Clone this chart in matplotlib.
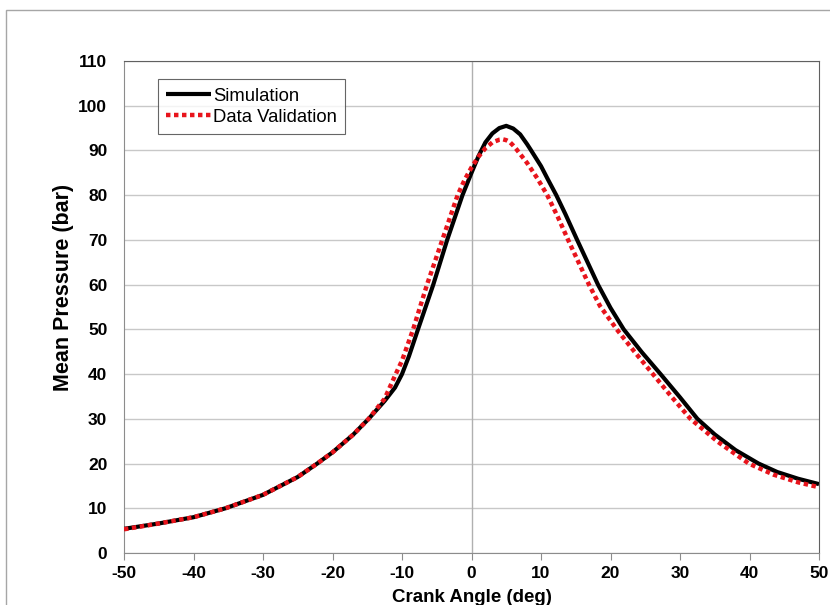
import matplotlib.pyplot as plt
from matplotlib.patches import Rectangle

plt.rcParams["font.family"] = ["Liberation Sans", "DejaVu Sans"]
plt.rcParams["axes.unicode_minus"] = False

# 曲线数据
sim_angle = [-50, -45, -40, -35.4, -30, -25, -22.2, -20, -17, -14.8, -12.5, -11, -10,
             -9, -7.7, -5.5, -3.5, -1.3, 0, 1, 2, 3, 4, 5, 6, 7, 8, 8.5, 10, 11,
             12.2, 13.5, 15.2, 16.7, 18.2, 20, 21.9, 24.5, 27.2, 30, 32.5, 35, 38,
             41.3, 44, 47, 50]
sim_pressure = [5.4, 6.6, 8.0, 10, 13.0, 17.0, 20, 22.5, 26.5, 30, 34, 37, 40,
                44, 50, 60, 70, 80, 85, 88.7, 91.8, 93.8, 95, 95.5, 94.9, 93.6, 91.4, 90.2, 86.5, 83.5,
                80, 75.8, 70, 65, 60, 54.8, 50, 44.9, 40, 34.8, 30, 26.5, 23,
                20, 18.1, 16.6, 15.4]

val_angle = [-50, -45, -40, -35.4, -30, -25, -22.2, -20, -17, -14.8, -12.5, -10.9, -10,
             -8.4, -6.4, -4.2, -2, -1, 0, 1, 2, 3, 4, 4.5, 5, 5.5, 6, 6.5, 8, 9.5,
             10.9, 12.4, 13.9, 16.9, 18.5, 20.9, 23.5, 26.1, 28.8, 31.5, 35.5, 39.9,
             43.5, 47, 50]
val_pressure = [5.3, 6.6, 8.0, 10, 13, 17, 20, 22.5, 26.5, 30, 34.5, 40, 43,
                50, 60, 70, 80, 83.4, 86.2, 88.6, 90.5, 91.8, 92.4, 92.5, 92.3, 91.9, 91.1, 90.2, 87.2, 83.7,
                80, 75.2, 70, 60, 55.2, 50, 44.9, 40, 34.9, 30, 24.8, 20,
                17.5, 15.8, 14.7]

x_ticks = list(range(-50, 51, 10))
y_ticks = list(range(0, 111, 10))


def main():
    fig = plt.figure(figsize=(8.3, 6.05), dpi=100)
    # 外框（Excel 图表区边框）
    fig.patches.append(Rectangle((6 / 830, -0.2), 1.2, 1.2 - 10 / 605,
                                 transform=fig.transFigure, fill=False,
                                 edgecolor="#a6a6a6", linewidth=1.0))
    ax = fig.add_axes([124 / 830, 1 - 553 / 605, 695 / 830, 492 / 605])

    ax.plot(sim_angle, sim_pressure, color="black", linewidth=3.0,
            solid_capstyle="butt", solid_joinstyle="round",
            label="Simulation", zorder=3)
    ax.plot(val_angle, val_pressure, color="#e8141c", linewidth=3.2,
            dashes=(1, 0.8), dash_capstyle="butt", label="Data Validation", zorder=4)

    ax.set_xlim(-50, 50)
    ax.set_ylim(0, 110)
    ax.set_xticks(x_ticks)
    ax.set_yticks(y_ticks)
    ax.grid(axis="y", color="#c8c8c8", linewidth=1.0)
    ax.axvline(0, color="#b0b0b0", linewidth=1.0, zorder=1)
    ax.set_axisbelow(True)

    for side in ("left", "bottom"):
        ax.spines[side].set_color("#8c8c8c")
    for side in ("top", "right"):
        ax.spines[side].set_color("#606060")

    ax.tick_params(axis="x", direction="out", length=5, color="#8c8c8c",
                   labelsize=12.5, pad=4)
    ax.tick_params(axis="y", length=0, labelsize=12.5, pad=12)
    for lab in ax.get_xticklabels() + ax.get_yticklabels():
        lab.set_fontweight("bold")

    ax.set_xlabel("Crank Angle (deg)", fontsize=13.5, fontweight="bold", labelpad=6)
    ax.set_ylabel("Mean Pressure (bar)", fontsize=15.5, fontweight="bold", labelpad=3)
    ax.yaxis.label.set_y(0.54)

    leg = ax.legend(loc="upper left", bbox_to_anchor=(0.049, 0.963), fontsize=13.3,
                    frameon=True, fancybox=False, edgecolor="#404040",
                    handlelength=2.4, handletextpad=0.12, borderpad=0.45,
                    labelspacing=0.22, borderaxespad=0)
    leg.get_frame().set_linewidth(0.8)

    fig.savefig("out.png", dpi=100)


if __name__ == "__main__":
    main()
